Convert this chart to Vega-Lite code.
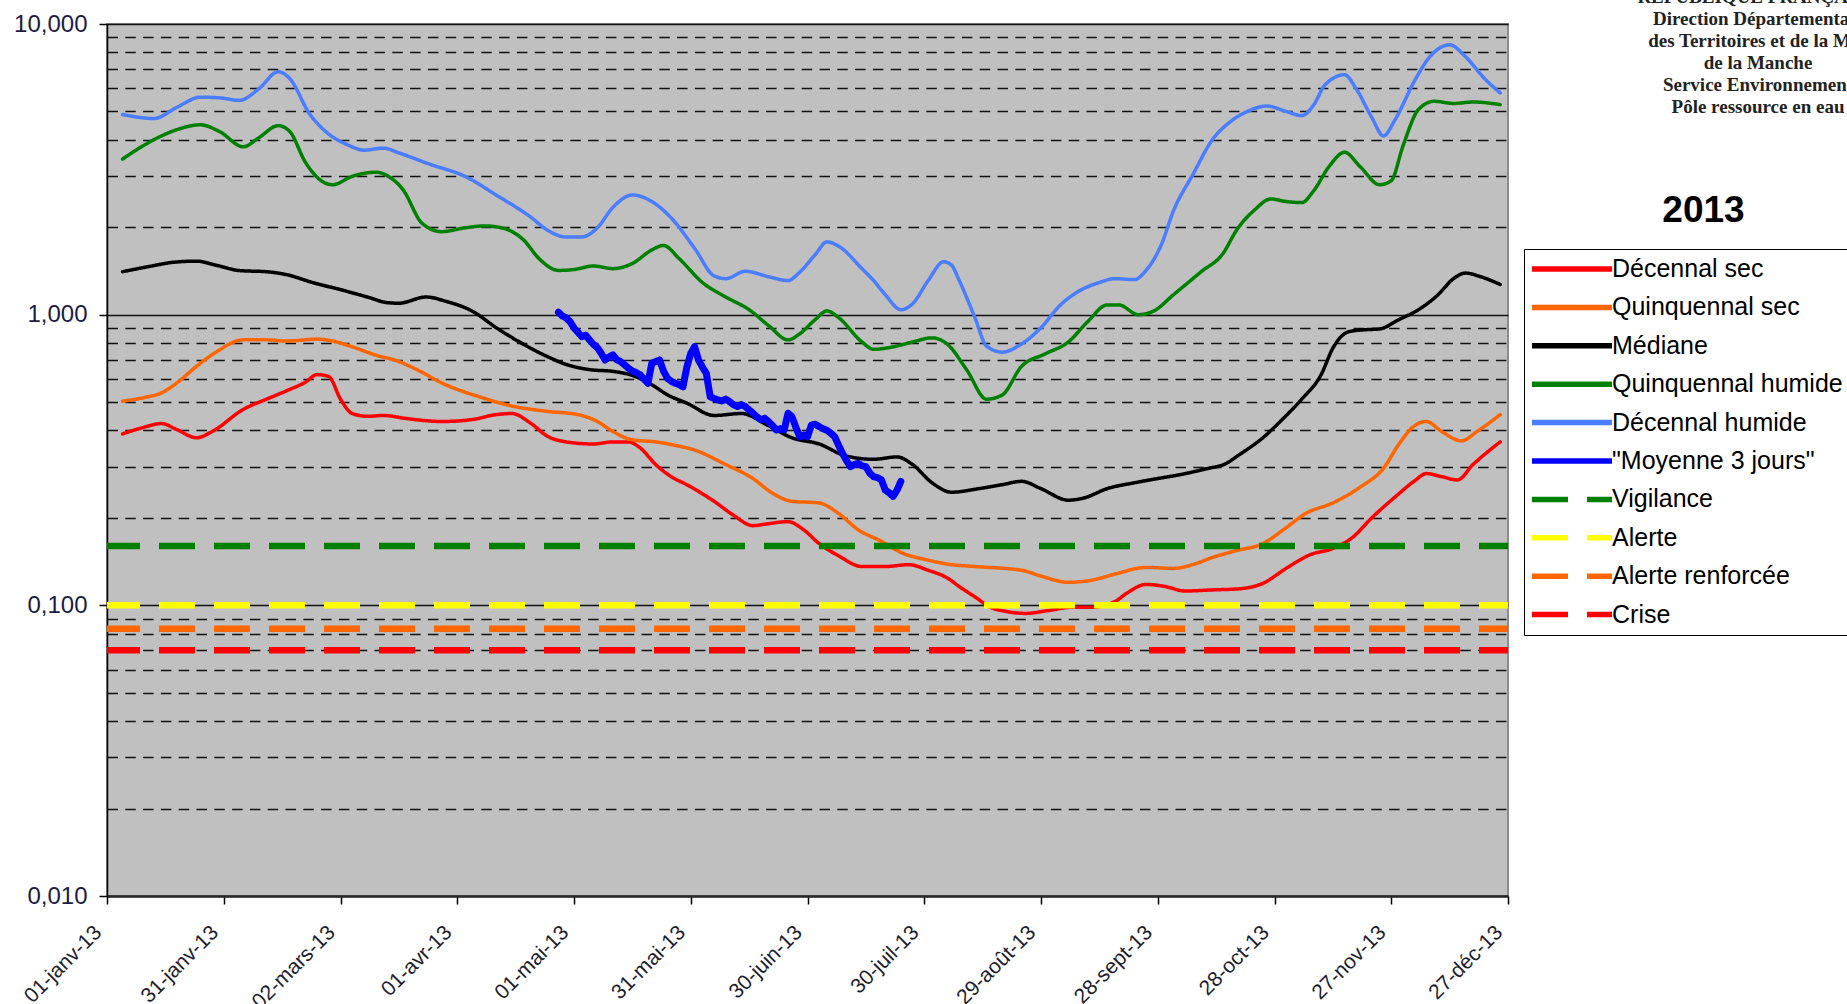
{
  "$schema": "https://vega.github.io/schema/vega-lite/v6.json",
  "width": 1401,
  "height": 872,
  "autosize": {"type": "none"},
  "padding": {"left": 107, "top": 24, "right": 339, "bottom": 108},
  "background": "white",
  "title": {
    "text": ["RÉPUBLIQUE FRANÇAISE", "Direction Départementale", "des Territoires et de la Mer", "de la Manche", "Service Environnement", "Pôle ressource en eau"],
    "orient": "top",
    "anchor": "end",
    "frame": "group",
    "align": "center",
    "font": "Liberation Serif",
    "fontSize": 19,
    "fontWeight": "bold",
    "lineHeight": 22,
    "color": "#222222",
    "offset": 0,
    "dx": 250,
    "dy": 105
  },
  "data": {
    "values": [
      {"serie": "Décennal sec", "date": "2013-01-05", "debit": 0.389},
      {"serie": "Décennal sec", "date": "2013-01-10", "debit": 0.408},
      {"serie": "Décennal sec", "date": "2013-01-15", "debit": 0.422},
      {"serie": "Décennal sec", "date": "2013-01-19", "debit": 0.402},
      {"serie": "Décennal sec", "date": "2013-01-24", "debit": 0.377},
      {"serie": "Décennal sec", "date": "2013-01-28", "debit": 0.396},
      {"serie": "Décennal sec", "date": "2013-02-05", "debit": 0.472},
      {"serie": "Décennal sec", "date": "2013-02-11", "debit": 0.512},
      {"serie": "Décennal sec", "date": "2013-02-16", "debit": 0.546},
      {"serie": "Décennal sec", "date": "2013-02-21", "debit": 0.586},
      {"serie": "Décennal sec", "date": "2013-02-24", "debit": 0.622},
      {"serie": "Décennal sec", "date": "2013-02-27", "debit": 0.612},
      {"serie": "Décennal sec", "date": "2013-03-02", "debit": 0.512},
      {"serie": "Décennal sec", "date": "2013-03-05", "debit": 0.457},
      {"serie": "Décennal sec", "date": "2013-03-09", "debit": 0.447},
      {"serie": "Décennal sec", "date": "2013-03-13", "debit": 0.450},
      {"serie": "Décennal sec", "date": "2013-03-19", "debit": 0.439},
      {"serie": "Décennal sec", "date": "2013-03-28", "debit": 0.429},
      {"serie": "Décennal sec", "date": "2013-04-05", "debit": 0.436},
      {"serie": "Décennal sec", "date": "2013-04-11", "debit": 0.453},
      {"serie": "Décennal sec", "date": "2013-04-15", "debit": 0.457},
      {"serie": "Décennal sec", "date": "2013-04-20", "debit": 0.422},
      {"serie": "Décennal sec", "date": "2013-04-24", "debit": 0.383},
      {"serie": "Décennal sec", "date": "2013-04-29", "debit": 0.365},
      {"serie": "Décennal sec", "date": "2013-05-06", "debit": 0.359},
      {"serie": "Décennal sec", "date": "2013-05-11", "debit": 0.365},
      {"serie": "Décennal sec", "date": "2013-05-15", "debit": 0.365},
      {"serie": "Décennal sec", "date": "2013-05-18", "debit": 0.348},
      {"serie": "Décennal sec", "date": "2013-05-22", "debit": 0.305},
      {"serie": "Décennal sec", "date": "2013-05-26", "debit": 0.277},
      {"serie": "Décennal sec", "date": "2013-05-30", "debit": 0.260},
      {"serie": "Décennal sec", "date": "2013-06-06", "debit": 0.228},
      {"serie": "Décennal sec", "date": "2013-06-11", "debit": 0.204},
      {"serie": "Décennal sec", "date": "2013-06-16", "debit": 0.188},
      {"serie": "Décennal sec", "date": "2013-06-20", "debit": 0.191},
      {"serie": "Décennal sec", "date": "2013-06-25", "debit": 0.194},
      {"serie": "Décennal sec", "date": "2013-06-29", "debit": 0.182},
      {"serie": "Décennal sec", "date": "2013-07-03", "debit": 0.163},
      {"serie": "Décennal sec", "date": "2013-07-08", "debit": 0.148},
      {"serie": "Décennal sec", "date": "2013-07-14", "debit": 0.136},
      {"serie": "Décennal sec", "date": "2013-07-20", "debit": 0.136},
      {"serie": "Décennal sec", "date": "2013-07-26", "debit": 0.138},
      {"serie": "Décennal sec", "date": "2013-07-31", "debit": 0.132},
      {"serie": "Décennal sec", "date": "2013-08-05", "debit": 0.124},
      {"serie": "Décennal sec", "date": "2013-08-08", "debit": 0.116},
      {"serie": "Décennal sec", "date": "2013-08-12", "debit": 0.107},
      {"serie": "Décennal sec", "date": "2013-08-16", "debit": 0.0985},
      {"serie": "Décennal sec", "date": "2013-08-20", "debit": 0.0953},
      {"serie": "Décennal sec", "date": "2013-08-25", "debit": 0.0938},
      {"serie": "Décennal sec", "date": "2013-08-31", "debit": 0.096},
      {"serie": "Décennal sec", "date": "2013-09-06", "debit": 0.0985},
      {"serie": "Décennal sec", "date": "2013-09-11", "debit": 0.0985},
      {"serie": "Décennal sec", "date": "2013-09-17", "debit": 0.103},
      {"serie": "Décennal sec", "date": "2013-09-20", "debit": 0.110},
      {"serie": "Décennal sec", "date": "2013-09-25", "debit": 0.118},
      {"serie": "Décennal sec", "date": "2013-09-30", "debit": 0.116},
      {"serie": "Décennal sec", "date": "2013-10-05", "debit": 0.112},
      {"serie": "Décennal sec", "date": "2013-10-12", "debit": 0.113},
      {"serie": "Décennal sec", "date": "2013-10-19", "debit": 0.114},
      {"serie": "Décennal sec", "date": "2013-10-25", "debit": 0.119},
      {"serie": "Décennal sec", "date": "2013-10-31", "debit": 0.134},
      {"serie": "Décennal sec", "date": "2013-11-06", "debit": 0.149},
      {"serie": "Décennal sec", "date": "2013-11-12", "debit": 0.157},
      {"serie": "Décennal sec", "date": "2013-11-17", "debit": 0.171},
      {"serie": "Décennal sec", "date": "2013-11-22", "debit": 0.200},
      {"serie": "Décennal sec", "date": "2013-11-28", "debit": 0.236},
      {"serie": "Décennal sec", "date": "2013-12-03", "debit": 0.268},
      {"serie": "Décennal sec", "date": "2013-12-06", "debit": 0.284},
      {"serie": "Décennal sec", "date": "2013-12-10", "debit": 0.277},
      {"serie": "Décennal sec", "date": "2013-12-14", "debit": 0.270},
      {"serie": "Décennal sec", "date": "2013-12-18", "debit": 0.305},
      {"serie": "Décennal sec", "date": "2013-12-25", "debit": 0.365},

      {"serie": "Quinquennal sec", "date": "2013-01-05", "debit": 0.504},
      {"serie": "Quinquennal sec", "date": "2013-01-11", "debit": 0.52},
      {"serie": "Quinquennal sec", "date": "2013-01-15", "debit": 0.538},
      {"serie": "Quinquennal sec", "date": "2013-01-19", "debit": 0.583},
      {"serie": "Quinquennal sec", "date": "2013-01-24", "debit": 0.664},
      {"serie": "Quinquennal sec", "date": "2013-01-29", "debit": 0.743},
      {"serie": "Quinquennal sec", "date": "2013-02-05", "debit": 0.819},
      {"serie": "Quinquennal sec", "date": "2013-02-11", "debit": 0.819},
      {"serie": "Quinquennal sec", "date": "2013-02-16", "debit": 0.811},
      {"serie": "Quinquennal sec", "date": "2013-02-24", "debit": 0.824},
      {"serie": "Quinquennal sec", "date": "2013-02-28", "debit": 0.811},
      {"serie": "Quinquennal sec", "date": "2013-03-05", "debit": 0.775},
      {"serie": "Quinquennal sec", "date": "2013-03-11", "debit": 0.726},
      {"serie": "Quinquennal sec", "date": "2013-03-17", "debit": 0.69},
      {"serie": "Quinquennal sec", "date": "2013-03-21", "debit": 0.653},
      {"serie": "Quinquennal sec", "date": "2013-03-29", "debit": 0.574},
      {"serie": "Quinquennal sec", "date": "2013-04-07", "debit": 0.520},
      {"serie": "Quinquennal sec", "date": "2013-04-15", "debit": 0.485},
      {"serie": "Quinquennal sec", "date": "2013-04-24", "debit": 0.465},
      {"serie": "Quinquennal sec", "date": "2013-05-02", "debit": 0.453},
      {"serie": "Quinquennal sec", "date": "2013-05-07", "debit": 0.429},
      {"serie": "Quinquennal sec", "date": "2013-05-11", "debit": 0.396},
      {"serie": "Quinquennal sec", "date": "2013-05-16", "debit": 0.371},
      {"serie": "Quinquennal sec", "date": "2013-05-22", "debit": 0.365},
      {"serie": "Quinquennal sec", "date": "2013-05-27", "debit": 0.355},
      {"serie": "Quinquennal sec", "date": "2013-06-01", "debit": 0.342},
      {"serie": "Quinquennal sec", "date": "2013-06-09", "debit": 0.305},
      {"serie": "Quinquennal sec", "date": "2013-06-16", "debit": 0.273},
      {"serie": "Quinquennal sec", "date": "2013-06-21", "debit": 0.243},
      {"serie": "Quinquennal sec", "date": "2013-06-26", "debit": 0.228},
      {"serie": "Quinquennal sec", "date": "2013-07-03", "debit": 0.225},
      {"serie": "Quinquennal sec", "date": "2013-07-08", "debit": 0.207},
      {"serie": "Quinquennal sec", "date": "2013-07-13", "debit": 0.182},
      {"serie": "Quinquennal sec", "date": "2013-07-19", "debit": 0.166},
      {"serie": "Quinquennal sec", "date": "2013-07-24", "debit": 0.152},
      {"serie": "Quinquennal sec", "date": "2013-07-31", "debit": 0.143},
      {"serie": "Quinquennal sec", "date": "2013-08-06", "debit": 0.138},
      {"serie": "Quinquennal sec", "date": "2013-08-12", "debit": 0.136},
      {"serie": "Quinquennal sec", "date": "2013-08-24", "debit": 0.132},
      {"serie": "Quinquennal sec", "date": "2013-08-29", "debit": 0.126},
      {"serie": "Quinquennal sec", "date": "2013-09-05", "debit": 0.120},
      {"serie": "Quinquennal sec", "date": "2013-09-11", "debit": 0.122},
      {"serie": "Quinquennal sec", "date": "2013-09-17", "debit": 0.128},
      {"serie": "Quinquennal sec", "date": "2013-09-25", "debit": 0.135},
      {"serie": "Quinquennal sec", "date": "2013-10-02", "debit": 0.134},
      {"serie": "Quinquennal sec", "date": "2013-10-07", "debit": 0.138},
      {"serie": "Quinquennal sec", "date": "2013-10-12", "debit": 0.146},
      {"serie": "Quinquennal sec", "date": "2013-10-18", "debit": 0.154},
      {"serie": "Quinquennal sec", "date": "2013-10-25", "debit": 0.163},
      {"serie": "Quinquennal sec", "date": "2013-10-31", "debit": 0.185},
      {"serie": "Quinquennal sec", "date": "2013-11-05", "debit": 0.207},
      {"serie": "Quinquennal sec", "date": "2013-11-12", "debit": 0.225},
      {"serie": "Quinquennal sec", "date": "2013-11-19", "debit": 0.255},
      {"serie": "Quinquennal sec", "date": "2013-11-25", "debit": 0.296},
      {"serie": "Quinquennal sec", "date": "2013-11-29", "debit": 0.359},
      {"serie": "Quinquennal sec", "date": "2013-12-03", "debit": 0.415},
      {"serie": "Quinquennal sec", "date": "2013-12-06", "debit": 0.429},
      {"serie": "Quinquennal sec", "date": "2013-12-10", "debit": 0.396},
      {"serie": "Quinquennal sec", "date": "2013-12-15", "debit": 0.368},
      {"serie": "Quinquennal sec", "date": "2013-12-19", "debit": 0.396},
      {"serie": "Quinquennal sec", "date": "2013-12-25", "debit": 0.453},

      {"serie": "Médiane", "date": "2013-01-05", "debit": 1.405},
      {"serie": "Médiane", "date": "2013-01-12", "debit": 1.466},
      {"serie": "Médiane", "date": "2013-01-18", "debit": 1.514},
      {"serie": "Médiane", "date": "2013-01-24", "debit": 1.528},
      {"serie": "Médiane", "date": "2013-01-29", "debit": 1.48},
      {"serie": "Médiane", "date": "2013-02-04", "debit": 1.418},
      {"serie": "Médiane", "date": "2013-02-11", "debit": 1.405},
      {"serie": "Médiane", "date": "2013-02-16", "debit": 1.374},
      {"serie": "Médiane", "date": "2013-02-23", "debit": 1.288},
      {"serie": "Médiane", "date": "2013-03-02", "debit": 1.219},
      {"serie": "Médiane", "date": "2013-03-09", "debit": 1.149},
      {"serie": "Médiane", "date": "2013-03-14", "debit": 1.10},
      {"serie": "Médiane", "date": "2013-03-17", "debit": 1.095},
      {"serie": "Médiane", "date": "2013-03-24", "debit": 1.15},
      {"serie": "Médiane", "date": "2013-03-29", "debit": 1.112},
      {"serie": "Médiane", "date": "2013-04-05", "debit": 1.026},
      {"serie": "Médiane", "date": "2013-04-11", "debit": 0.902},
      {"serie": "Médiane", "date": "2013-04-17", "debit": 0.805},
      {"serie": "Médiane", "date": "2013-04-24", "debit": 0.719},
      {"serie": "Médiane", "date": "2013-04-29", "debit": 0.674},
      {"serie": "Médiane", "date": "2013-05-05", "debit": 0.647},
      {"serie": "Médiane", "date": "2013-05-11", "debit": 0.638},
      {"serie": "Médiane", "date": "2013-05-16", "debit": 0.618},
      {"serie": "Médiane", "date": "2013-05-21", "debit": 0.574},
      {"serie": "Médiane", "date": "2013-05-25", "debit": 0.53},
      {"serie": "Médiane", "date": "2013-05-30", "debit": 0.496},
      {"serie": "Médiane", "date": "2013-06-06", "debit": 0.450},
      {"serie": "Médiane", "date": "2013-06-13", "debit": 0.457},
      {"serie": "Médiane", "date": "2013-06-20", "debit": 0.415},
      {"serie": "Médiane", "date": "2013-06-26", "debit": 0.377},
      {"serie": "Médiane", "date": "2013-07-03", "debit": 0.359},
      {"serie": "Médiane", "date": "2013-07-10", "debit": 0.326},
      {"serie": "Médiane", "date": "2013-07-17", "debit": 0.318},
      {"serie": "Médiane", "date": "2013-07-23", "debit": 0.324},
      {"serie": "Médiane", "date": "2013-07-27", "debit": 0.305},
      {"serie": "Médiane", "date": "2013-08-01", "debit": 0.264},
      {"serie": "Médiane", "date": "2013-08-06", "debit": 0.245},
      {"serie": "Médiane", "date": "2013-08-13", "debit": 0.252},
      {"serie": "Médiane", "date": "2013-08-19", "debit": 0.260},
      {"serie": "Médiane", "date": "2013-08-24", "debit": 0.267},
      {"serie": "Médiane", "date": "2013-08-29", "debit": 0.252},
      {"serie": "Médiane", "date": "2013-09-05", "debit": 0.230},
      {"serie": "Médiane", "date": "2013-09-09", "debit": 0.234},
      {"serie": "Médiane", "date": "2013-09-15", "debit": 0.252},
      {"serie": "Médiane", "date": "2013-09-22", "debit": 0.264},
      {"serie": "Médiane", "date": "2013-09-28", "debit": 0.273},
      {"serie": "Médiane", "date": "2013-10-04", "debit": 0.282},
      {"serie": "Médiane", "date": "2013-10-11", "debit": 0.296},
      {"serie": "Médiane", "date": "2013-10-15", "debit": 0.305},
      {"serie": "Médiane", "date": "2013-10-19", "debit": 0.33},
      {"serie": "Médiane", "date": "2013-10-25", "debit": 0.377},
      {"serie": "Médiane", "date": "2013-10-30", "debit": 0.436},
      {"serie": "Médiane", "date": "2013-11-04", "debit": 0.512},
      {"serie": "Médiane", "date": "2013-11-09", "debit": 0.622},
      {"serie": "Médiane", "date": "2013-11-12", "debit": 0.767},
      {"serie": "Médiane", "date": "2013-11-16", "debit": 0.873},
      {"serie": "Médiane", "date": "2013-11-20", "debit": 0.887},
      {"serie": "Médiane", "date": "2013-11-24", "debit": 0.893},
      {"serie": "Médiane", "date": "2013-11-29", "debit": 0.962},
      {"serie": "Médiane", "date": "2013-12-04", "debit": 1.04},
      {"serie": "Médiane", "date": "2013-12-09", "debit": 1.17},
      {"serie": "Médiane", "date": "2013-12-13", "debit": 1.33},
      {"serie": "Médiane", "date": "2013-12-16", "debit": 1.39},
      {"serie": "Médiane", "date": "2013-12-20", "debit": 1.35},
      {"serie": "Médiane", "date": "2013-12-25", "debit": 1.27},

      {"serie": "Quinquennal humide", "date": "2013-01-05", "debit": 3.43},
      {"serie": "Quinquennal humide", "date": "2013-01-12", "debit": 3.93},
      {"serie": "Quinquennal humide", "date": "2013-01-19", "debit": 4.33},
      {"serie": "Quinquennal humide", "date": "2013-01-25", "debit": 4.50},
      {"serie": "Quinquennal humide", "date": "2013-01-30", "debit": 4.26},
      {"serie": "Quinquennal humide", "date": "2013-02-05", "debit": 3.78},
      {"serie": "Quinquennal humide", "date": "2013-02-09", "debit": 4.06},
      {"serie": "Quinquennal humide", "date": "2013-02-14", "debit": 4.47},
      {"serie": "Quinquennal humide", "date": "2013-02-17", "debit": 4.26},
      {"serie": "Quinquennal humide", "date": "2013-02-21", "debit": 3.34},
      {"serie": "Quinquennal humide", "date": "2013-02-26", "debit": 2.84},
      {"serie": "Quinquennal humide", "date": "2013-02-28", "debit": 2.80},
      {"serie": "Quinquennal humide", "date": "2013-03-05", "debit": 2.99},
      {"serie": "Quinquennal humide", "date": "2013-03-11", "debit": 3.09},
      {"serie": "Quinquennal humide", "date": "2013-03-15", "debit": 2.95},
      {"serie": "Quinquennal humide", "date": "2013-03-18", "debit": 2.70},
      {"serie": "Quinquennal humide", "date": "2013-03-23", "debit": 2.06},
      {"serie": "Quinquennal humide", "date": "2013-03-28", "debit": 1.93},
      {"serie": "Quinquennal humide", "date": "2013-04-03", "debit": 1.99},
      {"serie": "Quinquennal humide", "date": "2013-04-08", "debit": 2.02},
      {"serie": "Quinquennal humide", "date": "2013-04-13", "debit": 1.98},
      {"serie": "Quinquennal humide", "date": "2013-04-18", "debit": 1.81},
      {"serie": "Quinquennal humide", "date": "2013-04-22", "debit": 1.56},
      {"serie": "Quinquennal humide", "date": "2013-04-27", "debit": 1.42},
      {"serie": "Quinquennal humide", "date": "2013-05-01", "debit": 1.43},
      {"serie": "Quinquennal humide", "date": "2013-05-06", "debit": 1.47},
      {"serie": "Quinquennal humide", "date": "2013-05-11", "debit": 1.44},
      {"serie": "Quinquennal humide", "date": "2013-05-16", "debit": 1.50},
      {"serie": "Quinquennal humide", "date": "2013-05-21", "debit": 1.67},
      {"serie": "Quinquennal humide", "date": "2013-05-24", "debit": 1.73},
      {"serie": "Quinquennal humide", "date": "2013-05-28", "debit": 1.56},
      {"serie": "Quinquennal humide", "date": "2013-06-03", "debit": 1.29},
      {"serie": "Quinquennal humide", "date": "2013-06-09", "debit": 1.15},
      {"serie": "Quinquennal humide", "date": "2013-06-15", "debit": 1.04},
      {"serie": "Quinquennal humide", "date": "2013-06-20", "debit": 0.917},
      {"serie": "Quinquennal humide", "date": "2013-06-25", "debit": 0.819},
      {"serie": "Quinquennal humide", "date": "2013-06-28", "debit": 0.859},
      {"serie": "Quinquennal humide", "date": "2013-07-02", "debit": 0.962},
      {"serie": "Quinquennal humide", "date": "2013-07-05", "debit": 1.03},
      {"serie": "Quinquennal humide", "date": "2013-07-08", "debit": 0.977},
      {"serie": "Quinquennal humide", "date": "2013-07-14", "debit": 0.805},
      {"serie": "Quinquennal humide", "date": "2013-07-17", "debit": 0.760},
      {"serie": "Quinquennal humide", "date": "2013-07-22", "debit": 0.775},
      {"serie": "Quinquennal humide", "date": "2013-07-27", "debit": 0.805},
      {"serie": "Quinquennal humide", "date": "2013-08-01", "debit": 0.832},
      {"serie": "Quinquennal humide", "date": "2013-08-05", "debit": 0.79},
      {"serie": "Quinquennal humide", "date": "2013-08-10", "debit": 0.643},
      {"serie": "Quinquennal humide", "date": "2013-08-15", "debit": 0.512},
      {"serie": "Quinquennal humide", "date": "2013-08-19", "debit": 0.529},
      {"serie": "Quinquennal humide", "date": "2013-08-24", "debit": 0.664},
      {"serie": "Quinquennal humide", "date": "2013-08-30", "debit": 0.732},
      {"serie": "Quinquennal humide", "date": "2013-09-05", "debit": 0.805},
      {"serie": "Quinquennal humide", "date": "2013-09-10", "debit": 0.946},
      {"serie": "Quinquennal humide", "date": "2013-09-15", "debit": 1.08},
      {"serie": "Quinquennal humide", "date": "2013-09-18", "debit": 1.08},
      {"serie": "Quinquennal humide", "date": "2013-09-23", "debit": 1.00},
      {"serie": "Quinquennal humide", "date": "2013-09-27", "debit": 1.03},
      {"serie": "Quinquennal humide", "date": "2013-10-02", "debit": 1.17},
      {"serie": "Quinquennal humide", "date": "2013-10-09", "debit": 1.40},
      {"serie": "Quinquennal humide", "date": "2013-10-15", "debit": 1.64},
      {"serie": "Quinquennal humide", "date": "2013-10-18", "debit": 1.93},
      {"serie": "Quinquennal humide", "date": "2013-10-23", "debit": 2.30},
      {"serie": "Quinquennal humide", "date": "2013-10-27", "debit": 2.50},
      {"serie": "Quinquennal humide", "date": "2013-10-31", "debit": 2.45},
      {"serie": "Quinquennal humide", "date": "2013-11-04", "debit": 2.43},
      {"serie": "Quinquennal humide", "date": "2013-11-07", "debit": 2.66},
      {"serie": "Quinquennal humide", "date": "2013-11-11", "debit": 3.23},
      {"serie": "Quinquennal humide", "date": "2013-11-15", "debit": 3.62},
      {"serie": "Quinquennal humide", "date": "2013-11-19", "debit": 3.23},
      {"serie": "Quinquennal humide", "date": "2013-11-24", "debit": 2.80},
      {"serie": "Quinquennal humide", "date": "2013-11-27", "debit": 2.89},
      {"serie": "Quinquennal humide", "date": "2013-11-30", "debit": 3.80},
      {"serie": "Quinquennal humide", "date": "2013-12-04", "debit": 5.08},
      {"serie": "Quinquennal humide", "date": "2013-12-08", "debit": 5.42},
      {"serie": "Quinquennal humide", "date": "2013-12-13", "debit": 5.33},
      {"serie": "Quinquennal humide", "date": "2013-12-18", "debit": 5.39},
      {"serie": "Quinquennal humide", "date": "2013-12-25", "debit": 5.28},

      {"serie": "Décennal humide", "date": "2013-01-05", "debit": 4.88},
      {"serie": "Décennal humide", "date": "2013-01-13", "debit": 4.73},
      {"serie": "Décennal humide", "date": "2013-01-19", "debit": 5.17},
      {"serie": "Décennal humide", "date": "2013-01-25", "debit": 5.60},
      {"serie": "Décennal humide", "date": "2013-01-30", "debit": 5.57},
      {"serie": "Décennal humide", "date": "2013-02-04", "debit": 5.46},
      {"serie": "Décennal humide", "date": "2013-02-09", "debit": 5.98},
      {"serie": "Décennal humide", "date": "2013-02-14", "debit": 6.85},
      {"serie": "Décennal humide", "date": "2013-02-17", "debit": 6.48},
      {"serie": "Décennal humide", "date": "2013-02-22", "debit": 4.92},
      {"serie": "Décennal humide", "date": "2013-02-27", "debit": 4.18},
      {"serie": "Décennal humide", "date": "2013-03-04", "debit": 3.83},
      {"serie": "Décennal humide", "date": "2013-03-08", "debit": 3.68},
      {"serie": "Décennal humide", "date": "2013-03-13", "debit": 3.74},
      {"serie": "Décennal humide", "date": "2013-03-17", "debit": 3.60},
      {"serie": "Décennal humide", "date": "2013-03-25", "debit": 3.29},
      {"serie": "Décennal humide", "date": "2013-04-03", "debit": 2.99},
      {"serie": "Décennal humide", "date": "2013-04-11", "debit": 2.58},
      {"serie": "Décennal humide", "date": "2013-04-20", "debit": 2.16},
      {"serie": "Décennal humide", "date": "2013-04-24", "debit": 1.96},
      {"serie": "Décennal humide", "date": "2013-04-29", "debit": 1.85},
      {"serie": "Décennal humide", "date": "2013-05-03", "debit": 1.85},
      {"serie": "Décennal humide", "date": "2013-05-07", "debit": 1.99},
      {"serie": "Décennal humide", "date": "2013-05-11", "debit": 2.34},
      {"serie": "Décennal humide", "date": "2013-05-16", "debit": 2.58},
      {"serie": "Décennal humide", "date": "2013-05-21", "debit": 2.45},
      {"serie": "Décennal humide", "date": "2013-05-26", "debit": 2.15},
      {"serie": "Décennal humide", "date": "2013-06-01", "debit": 1.69},
      {"serie": "Décennal humide", "date": "2013-06-06", "debit": 1.36},
      {"serie": "Décennal humide", "date": "2013-06-09", "debit": 1.33},
      {"serie": "Décennal humide", "date": "2013-06-14", "debit": 1.41},
      {"serie": "Décennal humide", "date": "2013-06-20", "debit": 1.35},
      {"serie": "Décennal humide", "date": "2013-06-25", "debit": 1.31},
      {"serie": "Décennal humide", "date": "2013-06-28", "debit": 1.40},
      {"serie": "Décennal humide", "date": "2013-07-02", "debit": 1.61},
      {"serie": "Décennal humide", "date": "2013-07-05", "debit": 1.78},
      {"serie": "Décennal humide", "date": "2013-07-08", "debit": 1.72},
      {"serie": "Décennal humide", "date": "2013-07-14", "debit": 1.44},
      {"serie": "Décennal humide", "date": "2013-07-17", "debit": 1.31},
      {"serie": "Décennal humide", "date": "2013-07-20", "debit": 1.17},
      {"serie": "Décennal humide", "date": "2013-07-24", "debit": 1.04},
      {"serie": "Décennal humide", "date": "2013-07-27", "debit": 1.09},
      {"serie": "Décennal humide", "date": "2013-07-31", "debit": 1.31},
      {"serie": "Décennal humide", "date": "2013-08-04", "debit": 1.52},
      {"serie": "Décennal humide", "date": "2013-08-06", "debit": 1.48},
      {"serie": "Décennal humide", "date": "2013-08-08", "debit": 1.31},
      {"serie": "Décennal humide", "date": "2013-08-12", "debit": 0.978},
      {"serie": "Décennal humide", "date": "2013-08-15", "debit": 0.780},
      {"serie": "Décennal humide", "date": "2013-08-19", "debit": 0.743},
      {"serie": "Décennal humide", "date": "2013-08-24", "debit": 0.793},
      {"serie": "Décennal humide", "date": "2013-08-29", "debit": 0.902},
      {"serie": "Décennal humide", "date": "2013-09-03", "debit": 1.08},
      {"serie": "Décennal humide", "date": "2013-09-08", "debit": 1.21},
      {"serie": "Décennal humide", "date": "2013-09-13", "debit": 1.29},
      {"serie": "Décennal humide", "date": "2013-09-17", "debit": 1.33},
      {"serie": "Décennal humide", "date": "2013-09-22", "debit": 1.32},
      {"serie": "Décennal humide", "date": "2013-09-25", "debit": 1.42},
      {"serie": "Décennal humide", "date": "2013-09-29", "debit": 1.75},
      {"serie": "Décennal humide", "date": "2013-10-02", "debit": 2.27},
      {"serie": "Décennal humide", "date": "2013-10-07", "debit": 3.03},
      {"serie": "Décennal humide", "date": "2013-10-12", "debit": 3.99},
      {"serie": "Décennal humide", "date": "2013-10-17", "debit": 4.65},
      {"serie": "Décennal humide", "date": "2013-10-21", "debit": 5.00},
      {"serie": "Décennal humide", "date": "2013-10-26", "debit": 5.22},
      {"serie": "Décennal humide", "date": "2013-10-31", "debit": 5.00},
      {"serie": "Décennal humide", "date": "2013-11-04", "debit": 4.84},
      {"serie": "Décennal humide", "date": "2013-11-07", "debit": 5.25},
      {"serie": "Décennal humide", "date": "2013-11-10", "debit": 6.18},
      {"serie": "Décennal humide", "date": "2013-11-15", "debit": 6.69},
      {"serie": "Décennal humide", "date": "2013-11-18", "debit": 5.98},
      {"serie": "Décennal humide", "date": "2013-11-22", "debit": 4.77},
      {"serie": "Décennal humide", "date": "2013-11-25", "debit": 4.12},
      {"serie": "Décennal humide", "date": "2013-11-28", "debit": 4.69},
      {"serie": "Décennal humide", "date": "2013-12-03", "debit": 6.38},
      {"serie": "Décennal humide", "date": "2013-12-07", "debit": 7.74},
      {"serie": "Décennal humide", "date": "2013-12-12", "debit": 8.48},
      {"serie": "Décennal humide", "date": "2013-12-16", "debit": 7.74},
      {"serie": "Décennal humide", "date": "2013-12-21", "debit": 6.48},
      {"serie": "Décennal humide", "date": "2013-12-25", "debit": 5.79},

      {"serie": "\"Moyenne 3 jours\"", "date": "2013-04-27", "debit": 1.02},
      {"serie": "\"Moyenne 3 jours\"", "date": "2013-04-28", "debit": 0.99},
      {"serie": "\"Moyenne 3 jours\"", "date": "2013-04-29", "debit": 0.975},
      {"serie": "\"Moyenne 3 jours\"", "date": "2013-04-30", "debit": 0.946},
      {"serie": "\"Moyenne 3 jours\"", "date": "2013-05-01", "debit": 0.90},
      {"serie": "\"Moyenne 3 jours\"", "date": "2013-05-02", "debit": 0.87},
      {"serie": "\"Moyenne 3 jours\"", "date": "2013-05-03", "debit": 0.840},
      {"serie": "\"Moyenne 3 jours\"", "date": "2013-05-04", "debit": 0.85},
      {"serie": "\"Moyenne 3 jours\"", "date": "2013-05-05", "debit": 0.818},
      {"serie": "\"Moyenne 3 jours\"", "date": "2013-05-06", "debit": 0.79},
      {"serie": "\"Moyenne 3 jours\"", "date": "2013-05-07", "debit": 0.77},
      {"serie": "\"Moyenne 3 jours\"", "date": "2013-05-08", "debit": 0.736},
      {"serie": "\"Moyenne 3 jours\"", "date": "2013-05-09", "debit": 0.698},
      {"serie": "\"Moyenne 3 jours\"", "date": "2013-05-10", "debit": 0.715},
      {"serie": "\"Moyenne 3 jours\"", "date": "2013-05-11", "debit": 0.727},
      {"serie": "\"Moyenne 3 jours\"", "date": "2013-05-12", "debit": 0.70},
      {"serie": "\"Moyenne 3 jours\"", "date": "2013-05-13", "debit": 0.689},
      {"serie": "\"Moyenne 3 jours\"", "date": "2013-05-14", "debit": 0.672},
      {"serie": "\"Moyenne 3 jours\"", "date": "2013-05-15", "debit": 0.654},
      {"serie": "\"Moyenne 3 jours\"", "date": "2013-05-16", "debit": 0.64},
      {"serie": "\"Moyenne 3 jours\"", "date": "2013-05-17", "debit": 0.632},
      {"serie": "\"Moyenne 3 jours\"", "date": "2013-05-18", "debit": 0.621},
      {"serie": "\"Moyenne 3 jours\"", "date": "2013-05-19", "debit": 0.60},
      {"serie": "\"Moyenne 3 jours\"", "date": "2013-05-20", "debit": 0.581},
      {"serie": "\"Moyenne 3 jours\"", "date": "2013-05-21", "debit": 0.681},
      {"serie": "\"Moyenne 3 jours\"", "date": "2013-05-22", "debit": 0.69},
      {"serie": "\"Moyenne 3 jours\"", "date": "2013-05-23", "debit": 0.698},
      {"serie": "\"Moyenne 3 jours\"", "date": "2013-05-24", "debit": 0.64},
      {"serie": "\"Moyenne 3 jours\"", "date": "2013-05-25", "debit": 0.604},
      {"serie": "\"Moyenne 3 jours\"", "date": "2013-05-26", "debit": 0.59},
      {"serie": "\"Moyenne 3 jours\"", "date": "2013-05-27", "debit": 0.581},
      {"serie": "\"Moyenne 3 jours\"", "date": "2013-05-28", "debit": 0.575},
      {"serie": "\"Moyenne 3 jours\"", "date": "2013-05-29", "debit": 0.565},
      {"serie": "\"Moyenne 3 jours\"", "date": "2013-05-30", "debit": 0.66},
      {"serie": "\"Moyenne 3 jours\"", "date": "2013-05-31", "debit": 0.736},
      {"serie": "\"Moyenne 3 jours\"", "date": "2013-06-01", "debit": 0.776},
      {"serie": "\"Moyenne 3 jours\"", "date": "2013-06-02", "debit": 0.698},
      {"serie": "\"Moyenne 3 jours\"", "date": "2013-06-03", "debit": 0.66},
      {"serie": "\"Moyenne 3 jours\"", "date": "2013-06-04", "debit": 0.628},
      {"serie": "\"Moyenne 3 jours\"", "date": "2013-06-05", "debit": 0.522},
      {"serie": "\"Moyenne 3 jours\"", "date": "2013-06-06", "debit": 0.515},
      {"serie": "\"Moyenne 3 jours\"", "date": "2013-06-07", "debit": 0.509},
      {"serie": "\"Moyenne 3 jours\"", "date": "2013-06-08", "debit": 0.505},
      {"serie": "\"Moyenne 3 jours\"", "date": "2013-06-09", "debit": 0.512},
      {"serie": "\"Moyenne 3 jours\"", "date": "2013-06-10", "debit": 0.502},
      {"serie": "\"Moyenne 3 jours\"", "date": "2013-06-11", "debit": 0.49},
      {"serie": "\"Moyenne 3 jours\"", "date": "2013-06-12", "debit": 0.483},
      {"serie": "\"Moyenne 3 jours\"", "date": "2013-06-13", "debit": 0.49},
      {"serie": "\"Moyenne 3 jours\"", "date": "2013-06-14", "debit": 0.483},
      {"serie": "\"Moyenne 3 jours\"", "date": "2013-06-15", "debit": 0.47},
      {"serie": "\"Moyenne 3 jours\"", "date": "2013-06-16", "debit": 0.458},
      {"serie": "\"Moyenne 3 jours\"", "date": "2013-06-17", "debit": 0.445},
      {"serie": "\"Moyenne 3 jours\"", "date": "2013-06-18", "debit": 0.435},
      {"serie": "\"Moyenne 3 jours\"", "date": "2013-06-19", "debit": 0.44},
      {"serie": "\"Moyenne 3 jours\"", "date": "2013-06-20", "debit": 0.429},
      {"serie": "\"Moyenne 3 jours\"", "date": "2013-06-21", "debit": 0.415},
      {"serie": "\"Moyenne 3 jours\"", "date": "2013-06-22", "debit": 0.401},
      {"serie": "\"Moyenne 3 jours\"", "date": "2013-06-23", "debit": 0.405},
      {"serie": "\"Moyenne 3 jours\"", "date": "2013-06-24", "debit": 0.401},
      {"serie": "\"Moyenne 3 jours\"", "date": "2013-06-25", "debit": 0.458},
      {"serie": "\"Moyenne 3 jours\"", "date": "2013-06-26", "debit": 0.446},
      {"serie": "\"Moyenne 3 jours\"", "date": "2013-06-27", "debit": 0.41},
      {"serie": "\"Moyenne 3 jours\"", "date": "2013-06-28", "debit": 0.380},
      {"serie": "\"Moyenne 3 jours\"", "date": "2013-06-29", "debit": 0.385},
      {"serie": "\"Moyenne 3 jours\"", "date": "2013-06-30", "debit": 0.380},
      {"serie": "\"Moyenne 3 jours\"", "date": "2013-07-01", "debit": 0.417},
      {"serie": "\"Moyenne 3 jours\"", "date": "2013-07-02", "debit": 0.42},
      {"serie": "\"Moyenne 3 jours\"", "date": "2013-07-03", "debit": 0.412},
      {"serie": "\"Moyenne 3 jours\"", "date": "2013-07-04", "debit": 0.405},
      {"serie": "\"Moyenne 3 jours\"", "date": "2013-07-05", "debit": 0.40},
      {"serie": "\"Moyenne 3 jours\"", "date": "2013-07-06", "debit": 0.391},
      {"serie": "\"Moyenne 3 jours\"", "date": "2013-07-07", "debit": 0.380},
      {"serie": "\"Moyenne 3 jours\"", "date": "2013-07-08", "debit": 0.355},
      {"serie": "\"Moyenne 3 jours\"", "date": "2013-07-09", "debit": 0.333},
      {"serie": "\"Moyenne 3 jours\"", "date": "2013-07-10", "debit": 0.315},
      {"serie": "\"Moyenne 3 jours\"", "date": "2013-07-11", "debit": 0.300},
      {"serie": "\"Moyenne 3 jours\"", "date": "2013-07-12", "debit": 0.305},
      {"serie": "\"Moyenne 3 jours\"", "date": "2013-07-13", "debit": 0.308},
      {"serie": "\"Moyenne 3 jours\"", "date": "2013-07-14", "debit": 0.302},
      {"serie": "\"Moyenne 3 jours\"", "date": "2013-07-15", "debit": 0.300},
      {"serie": "\"Moyenne 3 jours\"", "date": "2013-07-16", "debit": 0.285},
      {"serie": "\"Moyenne 3 jours\"", "date": "2013-07-17", "debit": 0.277},
      {"serie": "\"Moyenne 3 jours\"", "date": "2013-07-18", "debit": 0.275},
      {"serie": "\"Moyenne 3 jours\"", "date": "2013-07-19", "debit": 0.270},
      {"serie": "\"Moyenne 3 jours\"", "date": "2013-07-20", "debit": 0.249},
      {"serie": "\"Moyenne 3 jours\"", "date": "2013-07-21", "debit": 0.244},
      {"serie": "\"Moyenne 3 jours\"", "date": "2013-07-22", "debit": 0.237},
      {"serie": "\"Moyenne 3 jours\"", "date": "2013-07-23", "debit": 0.249},
      {"serie": "\"Moyenne 3 jours\"", "date": "2013-07-24", "debit": 0.267},

      {"serie": "Vigilance", "date": "2013-01-01", "debit": 0.16},
      {"serie": "Vigilance", "date": "2013-12-27", "debit": 0.16},
      {"serie": "Alerte", "date": "2013-01-01", "debit": 0.1},
      {"serie": "Alerte", "date": "2013-12-27", "debit": 0.1},
      {"serie": "Alerte renforcée", "date": "2013-01-01", "debit": 0.083},
      {"serie": "Alerte renforcée", "date": "2013-12-27", "debit": 0.083},
      {"serie": "Crise", "date": "2013-01-01", "debit": 0.07},
      {"serie": "Crise", "date": "2013-12-27", "debit": 0.07}
    ]
  },
  "encoding": {
    "x": {
      "field": "date",
      "type": "temporal",
      "scale": {"type": "utc", "domain": [1356998400000, 1388102400000]},
      "axis": {
        "title": "2013",
        "titleX": 1596,
        "titleY": -686,
        "titleAngle": 0,
        "titleAlign": "center",
        "titleBaseline": "middle",
        "titleFont": "Liberation Sans",
        "titleFontSize": 37,
        "titleFontWeight": "bold",
        "titleColor": "#000000",
        "values": [1356998400000, 1359590400000, 1362182400000, 1364774400000, 1367366400000, 1369958400000, 1372550400000, 1375142400000, 1377734400000, 1380326400000, 1382918400000, 1385510400000, 1388102400000],
        "labelExpr": "utcFormat(datum.value, '%d') + '-' + ['janv','févr','mars','avr','mai','juin','juil','août','sept','oct','nov','déc'][utcmonth(datum.value)] + '-13'",
        "labelAngle": -45,
        "labelAlign": "right",
        "labelBaseline": "middle",
        "labelPadding": 25,
        "labelOffset": -9,
        "labelFlush": false,
        "labelOverlap": false,
        "labelFont": "Liberation Sans",
        "labelFontSize": 21,
        "labelColor": "#1e1e2e",
        "grid": false,
        "tickSize": 8,
        "tickColor": "#000000",
        "tickWidth": 1.5,
        "domainColor": "#2a2a2a",
        "domainWidth": 2.5
      }
    },
    "y": {
      "field": "debit",
      "type": "quantitative",
      "scale": {"type": "log", "domain": [0.01, 10], "nice": false},
      "axis": {
        "title": null,
        "values": [0.01, 0.02, 0.03, 0.04, 0.05, 0.06, 0.07, 0.08, 0.09, 0.1, 0.2, 0.3, 0.4, 0.5, 0.6, 0.7, 0.8, 0.9, 1, 2, 3, 4, 5, 6, 7, 8, 9, 10],
        "labelExpr": "abs(log(datum.value)/LN10 - round(log(datum.value)/LN10)) < 0.01 ? replace(format(datum.value, '.3f'), '.', ',') : ''",
        "labelFont": "Liberation Sans",
        "labelFontSize": 24,
        "labelColor": "#1b1b45",
        "labelPadding": 12,
        "labelFlush": false,
        "labelOverlap": false,
        "grid": true,
        "gridColor": "#111111",
        "gridWidth": {"condition": {"test": "abs(log(datum.value)/LN10 - round(log(datum.value)/LN10)) < 0.01", "value": 1.3}, "value": 1.4},
        "gridDash": {"condition": {"test": "abs(log(datum.value)/LN10 - round(log(datum.value)/LN10)) < 0.01", "value": []}, "value": [10.5, 7.3]},
        "tickSize": 8,
        "tickColor": "#000000",
        "tickWidth": 1.5,
        "tickOpacity": {"condition": {"test": "abs(log(datum.value)/LN10 - round(log(datum.value)/LN10)) < 0.01", "value": 1}, "value": 0},
        "domainColor": "#000000",
        "domainWidth": 1.5
      }
    },
    "color": {
      "field": "serie",
      "type": "nominal",
      "scale": {
        "domain": ["Décennal sec", "Quinquennal sec", "Médiane", "Quinquennal humide", "Décennal humide", "\"Moyenne 3 jours\"", "Vigilance", "Alerte", "Alerte renforcée", "Crise"],
        "range": ["#ff0000", "#ff6600", "#000000", "#008000", "#4a7dff", "#0000ff", "#008000", "#ffff00", "#ff6600", "#ff0000"]
      },
      "legend": {
        "title": null,
        "orient": "none",
        "legendX": 1417,
        "legendY": 225,
        "direction": "vertical",
        "strokeColor": "#000000",
        "fillColor": "#ffffff",
        "padding": 7,
        "symbolType": "M-4,0H4",
        "symbolSize": 400,
        "symbolStrokeWidth": 5.5,
        "symbolOffset": 28,
        "labelFont": "Liberation Sans",
        "labelFontSize": 25,
        "labelColor": "#000000",
        "labelLimit": 600,
        "labelOffset": 27,
        "rowPadding": 12.4
      }
    },
    "strokeDash": {
      "field": "serie",
      "type": "nominal",
      "scale": {
        "domain": ["Décennal sec", "Quinquennal sec", "Médiane", "Quinquennal humide", "Décennal humide", "\"Moyenne 3 jours\"", "Vigilance", "Alerte", "Alerte renforcée", "Crise"],
        "range": [[1, 0], [1, 0], [1, 0], [1, 0], [1, 0], [1, 0], [36, 19], [36, 19], [36, 19], [36, 19]]
      },
      "legend": {
        "title": null,
        "orient": "none",
        "legendX": 1417,
        "legendY": 225,
        "direction": "vertical",
        "strokeColor": "#000000",
        "fillColor": "#ffffff",
        "padding": 7,
        "symbolType": "M-4,0H4",
        "symbolSize": 400,
        "symbolStrokeWidth": 5.5,
        "symbolOffset": 28,
        "labelFont": "Liberation Sans",
        "labelFontSize": 25,
        "labelColor": "#000000",
        "labelLimit": 600,
        "labelOffset": 27,
        "rowPadding": 12.4
      }
    }
  },
  "layer": [
    {
      "transform": [{"filter": {"field": "serie", "oneOf": ["Décennal sec", "Quinquennal sec", "Médiane", "Quinquennal humide", "Décennal humide"]}}],
      "mark": {"type": "line", "interpolate": "monotone", "strokeWidth": 3.5, "strokeCap": "round", "strokeJoin": "round"}
    },
    {
      "transform": [{"filter": {"field": "serie", "equal": "\"Moyenne 3 jours\""}}],
      "mark": {"type": "line", "interpolate": "linear", "strokeWidth": 7, "strokeCap": "round", "strokeJoin": "round"}
    },
    {
      "transform": [{"filter": {"field": "serie", "oneOf": ["Vigilance", "Alerte", "Alerte renforcée", "Crise"]}}],
      "mark": {"type": "line", "interpolate": "linear", "strokeWidth": 6.5, "strokeCap": "butt", "strokeDashOffset": 3}
    }
  ],
  "config": {
    "view": {"fill": "#c0c0c0", "stroke": "#8c8c8c", "strokeWidth": 2},
    "font": "Liberation Sans"
  }
}
